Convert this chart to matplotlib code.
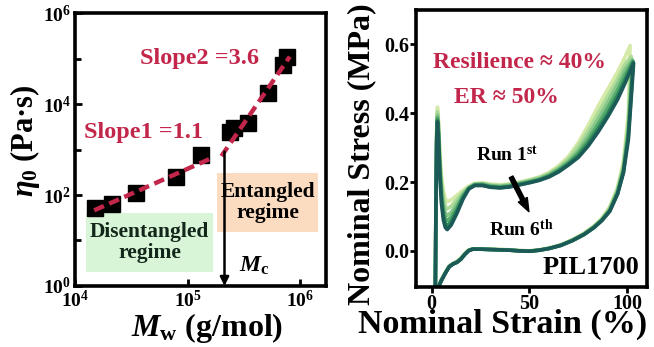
import numpy as np
import matplotlib
matplotlib.use("Agg")
import matplotlib.pyplot as plt
from matplotlib.patches import Rectangle
from matplotlib.ticker import FixedLocator, FormatStrFormatter, NullFormatter

plt.rcParams["font.family"] = ["Liberation Serif", "DejaVu Serif"]
plt.rcParams["font.weight"] = "bold"
plt.rcParams["axes.labelweight"] = "bold"
plt.rcParams["mathtext.fontset"] = "custom"
plt.rcParams["mathtext.rm"] = "Liberation Serif:bold"
plt.rcParams["mathtext.it"] = "Liberation Serif:italic:bold"
plt.rcParams["mathtext.bf"] = "Liberation Serif:bold"

CRIMSON = "#c3264b"

# zero-shear viscosity vs. molecular weight
MW = [1.5e4, 2.15e4, 3.5e4, 7.9e4, 1.33e5, 2.4e5, 2.6e5, 3.45e5, 5.2e5, 7.1e5, 7.6e5]
ETA0 = [52, 62, 110, 245, 760, 2400, 2950, 3800, 17500, 72000, 108000]

SLOPE1 = 1.1
SLOPE2 = 3.6
FIT1_RANGE = [1.48e4, 1.68e5]
FIT1_ANCHOR = [1.48e4, 46]
FIT2_RANGE = [2.0e5, 8.1e5]
FIT2_ANCHOR = [8.1e5, 1.1e5]
MC = 2.13e5
MC_ARROW_TOP = 900

# cyclic tensile test, PIL1700, runs 1..6
RUN_COLORS = ["#d6eaa8", "#addb98", "#86c68a", "#55aa6c", "#2b8659", "#1b5a57"]

LOAD_STRAIN = [1.8, 2.2, 2.6, 3.0, 3.5, 4.2, 5.0, 6.0, 7.0, 8.0, 10, 13, 16, 19, 22, 26,
               30, 35, 40, 45, 50, 55, 60, 65, 70, 75, 80, 85, 90, 95, 99]
LOAD_RUN1 = [-0.2, 0.14, 0.36, 0.418, 0.38, 0.29, 0.22, 0.175, 0.152, 0.143, 0.148, 0.162, 0.176,
             0.188, 0.196, 0.198, 0.194, 0.192, 0.195, 0.2, 0.207, 0.215, 0.228, 0.248, 0.275,
             0.315, 0.365, 0.42, 0.47, 0.52, 0.566]
LOAD_RUN2 = [-0.2, 0.13, 0.35, 0.405, 0.37, 0.27, 0.20, 0.155, 0.13, 0.122, 0.13, 0.15, 0.17,
             0.186, 0.195, 0.196, 0.192, 0.19, 0.193, 0.199, 0.205, 0.213, 0.225, 0.243, 0.268,
             0.305, 0.35, 0.4, 0.45, 0.5, 0.545]
LOAD_RUN3 = [-0.2, 0.13, 0.34, 0.395, 0.36, 0.255, 0.185, 0.135, 0.11, 0.103, 0.112, 0.138, 0.165,
             0.184, 0.194, 0.195, 0.19, 0.188, 0.191, 0.197, 0.203, 0.21, 0.222, 0.24, 0.262,
             0.293, 0.335, 0.383, 0.432, 0.484, 0.53]
LOAD_RUN4 = [-0.2, 0.12, 0.33, 0.387, 0.35, 0.245, 0.17, 0.118, 0.095, 0.088, 0.098, 0.127, 0.16,
             0.182, 0.192, 0.193, 0.188, 0.186, 0.189, 0.195, 0.201, 0.208, 0.219, 0.236, 0.257,
             0.285, 0.323, 0.368, 0.415, 0.467, 0.515]
LOAD_RUN5 = [-0.2, 0.12, 0.325, 0.38, 0.34, 0.232, 0.155, 0.103, 0.08, 0.073, 0.085, 0.118, 0.155,
             0.181, 0.191, 0.191, 0.186, 0.184, 0.187, 0.193, 0.199, 0.206, 0.217, 0.233, 0.253,
             0.278, 0.313, 0.355, 0.4, 0.452, 0.5]
LOAD_RUN6 = [-0.2, 0.12, 0.32, 0.375, 0.33, 0.22, 0.14, 0.09, 0.068, 0.062, 0.075, 0.11, 0.15,
             0.18, 0.19, 0.19, 0.185, 0.183, 0.186, 0.192, 0.198, 0.205, 0.215, 0.23, 0.25,
             0.272, 0.305, 0.345, 0.39, 0.44, 0.49]

PEAK_STRAIN = [101.4, 102.0, 102.5, 102.8, 103.0, 103.2]
PEAK_STRESS = [0.597, 0.565, 0.556, 0.552, 0.549, 0.546]

UNLOAD_STRAIN = [100.5, 98, 95, 91, 87, 83, 78, 72, 66, 60, 55, 50, 45, 40, 35, 30, 25, 21,
                 19, 17, 15, 13, 11, 9, 7, 5, 3.5, 2.5]
UNLOAD_RUN1 = [0.40, 0.26, 0.185, 0.128, 0.095, 0.073, 0.052, 0.033, 0.018, 0.008, 0.003, 0.0,
               0.001, 0.003, 0.004, 0.005, 0.006, 0.006, 0.003, -0.007, -0.02, -0.03, -0.036,
               -0.044, -0.062, -0.083, -0.103, -0.128]
UNLOAD_RUN2 = [0.375, 0.25, 0.18, 0.125, 0.093, 0.072, 0.051, 0.032, 0.017, 0.008, 0.003, 0.0,
               0.001, 0.003, 0.004, 0.005, 0.006, 0.006, 0.002, -0.008, -0.021, -0.031, -0.037,
               -0.045, -0.063, -0.084, -0.104, -0.129]
UNLOAD_RUN3 = [0.355, 0.24, 0.175, 0.121, 0.091, 0.07, 0.05, 0.031, 0.017, 0.007, 0.002, -0.001,
               0.0, 0.002, 0.003, 0.004, 0.005, 0.005, 0.002, -0.009, -0.022, -0.032, -0.037,
               -0.045, -0.064, -0.085, -0.104, -0.13]
UNLOAD_RUN4 = [0.345, 0.235, 0.17, 0.118, 0.09, 0.069, 0.049, 0.031, 0.016, 0.007, 0.002, -0.001,
               0.0, 0.002, 0.003, 0.004, 0.005, 0.005, 0.001, -0.01, -0.023, -0.033, -0.038,
               -0.046, -0.065, -0.086, -0.105, -0.13]
UNLOAD_RUN5 = [0.335, 0.23, 0.167, 0.116, 0.089, 0.068, 0.048, 0.03, 0.016, 0.007, 0.002, -0.001,
               0.0, 0.002, 0.003, 0.004, 0.005, 0.005, 0.001, -0.01, -0.024, -0.033, -0.038,
               -0.046, -0.065, -0.086, -0.105, -0.13]
UNLOAD_RUN6 = [0.323, 0.227, 0.165, 0.115, 0.088, 0.068, 0.048, 0.03, 0.016, 0.007, 0.002, -0.001,
               0.0, 0.002, 0.003, 0.004, 0.005, 0.005, 0.001, -0.01, -0.024, -0.033, -0.038,
               -0.046, -0.065, -0.086, -0.105, -0.13]

LOADS = [LOAD_RUN1, LOAD_RUN2, LOAD_RUN3, LOAD_RUN4, LOAD_RUN5, LOAD_RUN6]
UNLOADS = [UNLOAD_RUN1, UNLOAD_RUN2, UNLOAD_RUN3, UNLOAD_RUN4, UNLOAD_RUN5, UNLOAD_RUN6]


def power_law(x_range, anchor, slope):
    x = np.geomspace(x_range[0], x_range[1], 60)
    return x, anchor[1] * (x / anchor[0]) ** slope


def style_spines(ax):
    for sp in ax.spines.values():
        sp.set_linewidth(2.6)


fig = plt.figure(figsize=(6.54, 3.47), dpi=100)

# ---- left: eta0 vs Mw ----
ax1 = fig.add_axes([0.1147, 0.1758, 0.3838, 0.7867])
ax1.set_xscale("log")
ax1.set_yscale("log")
ax1.set_xlim(1e4, 1.7e6)
ax1.set_ylim(1, 1e6)

ax1.plot(MW, ETA0, "s", color="black", markersize=11, zorder=3)
x1, y1 = power_law(FIT1_RANGE, FIT1_ANCHOR, SLOPE1)
x2, y2 = power_law(FIT2_RANGE, FIT2_ANCHOR, SLOPE2)
for xs, ys in [(x1, y1), (x2, y2)]:
    ax1.plot(xs, ys, color=CRIMSON, lw=3.2, dashes=(2.4, 1.3), zorder=4)

ax1.annotate("", xy=(MC, 1.0), xytext=(MC, MC_ARROW_TOP),
             arrowprops=dict(arrowstyle="-|>", lw=1.8, color="black", mutation_scale=13,
                             shrinkA=0, shrinkB=0), zorder=5)

ax1.xaxis.set_major_locator(FixedLocator([1e4, 1e5, 1e6]))
ax1.xaxis.set_minor_locator(FixedLocator([]))
ax1.yaxis.set_major_locator(FixedLocator([1, 1e2, 1e4, 1e6]))
ax1.yaxis.set_minor_locator(FixedLocator([10, 1e3, 1e5]))
ax1.yaxis.set_minor_formatter(NullFormatter())
ax1.set_xticklabels([r"$10^{4}$", r"$10^{5}$", r"$10^{6}$"])
ax1.set_yticklabels([r"$10^{0}$", r"$10^{2}$", r"$10^{4}$", r"$10^{6}$"])
ax1.tick_params(which="both", direction="in", width=2, labelsize=14, pad=3)
ax1.tick_params(which="major", length=5)
ax1.tick_params(which="minor", length=4)
style_spines(ax1)

ax1.set_xlabel(r"$M_{\mathrm{w}}$ (g/mol)", fontsize=23)
ax1.xaxis.set_label_coords(0.526, -0.155)
ax1.xaxis.label.set_verticalalignment("center")
ax1.set_ylabel(r"$\eta_{0}$ (Pa·s)", fontsize=22)
ax1.yaxis.set_label_coords(-0.199, 0.531)
ax1.yaxis.label.set_verticalalignment("center")

ax1.text(0.494, 0.832, "Slope2 =3.6", transform=ax1.transAxes, color=CRIMSON,
         fontsize=17.5, ha="center", va="center")
ax1.text(0.271, 0.564, "Slope1 =1.1", transform=ax1.transAxes, color=CRIMSON,
         fontsize=17.5, ha="center", va="center")

ax1.add_patch(Rectangle((0.566, 0.198), 0.402, 0.216, transform=ax1.transAxes,
                        facecolor="#fbdcc0", edgecolor="none", zorder=1))
ax1.text(0.767, 0.306, "Entangled\nregime", transform=ax1.transAxes, fontsize=15.5,
         ha="center", va="center", linespacing=1.1, zorder=2)
ax1.add_patch(Rectangle((0.044, 0.051), 0.506, 0.216, transform=ax1.transAxes,
                        facecolor="#d8f5d8", edgecolor="none", zorder=1))
ax1.text(0.297, 0.159, "Disentangled\nregime", transform=ax1.transAxes, fontsize=15.5,
         color="#13261a", ha="center", va="center", linespacing=1.1, zorder=2)
ax1.text(0.713, 0.073, r"$M_{\mathrm{c}}$", transform=ax1.transAxes, fontsize=17,
         ha="center", va="center")

# ---- right: cyclic stress-strain ----
ax2 = fig.add_axes([0.636, 0.1729, 0.3532, 0.798])
ax2.set_xlim(-8, 110)
ax2.set_ylim(-0.105, 0.70)

for i in range(6):
    strain = LOAD_STRAIN + [PEAK_STRAIN[i]] + UNLOAD_STRAIN
    stress = LOADS[i] + [PEAK_STRESS[i]] + UNLOADS[i]
    ax2.plot(strain, stress, color=RUN_COLORS[i], lw=2.6, solid_joinstyle="round")

ax2.set_xticks([0, 50, 100])
ax2.set_yticks([0.0, 0.2, 0.4, 0.6])
ax2.yaxis.set_major_formatter(FormatStrFormatter("%.1f"))
ax2.tick_params(direction="out", length=4, width=2, labelsize=14.5, pad=1)
style_spines(ax2)

ax2.set_xlabel("Nominal Strain (%)", fontsize=24.5)
ax2.xaxis.set_label_coords(0.375, -0.135)
ax2.xaxis.label.set_verticalalignment("center")
ax2.set_ylabel("Nominal Stress (MPa)", fontsize=23)
ax2.yaxis.set_label_coords(-0.234, 0.48)
ax2.yaxis.label.set_verticalalignment("center")

ax2.text(0.450, 0.809, "Resilience ≈ 40%", transform=ax2.transAxes, color=CRIMSON,
         fontsize=17, ha="center", va="center")
ax2.text(0.390, 0.686, "ER ≈ 50%", transform=ax2.transAxes, color=CRIMSON,
         fontsize=17, ha="center", va="center")
ax2.text(0.394, 0.477, r"Run $1^{\mathrm{st}}$", transform=ax2.transAxes, fontsize=14,
         ha="center", va="center")
ax2.text(0.455, 0.209, r"Run $6^{\mathrm{th}}$", transform=ax2.transAxes, fontsize=14,
         ha="center", va="center")
ax2.text(0.968, 0.072, "PIL1700", transform=ax2.transAxes, fontsize=19,
         ha="right", va="center")
ax2.annotate("", xy=(49.7, 0.114), xytext=(40.6, 0.215),
             arrowprops=dict(arrowstyle="simple,head_length=0.8,head_width=0.6,tail_width=0.25",
                             color="black", mutation_scale=12, shrinkA=0, shrinkB=0))

fig.savefig("out.png", dpi=100)
